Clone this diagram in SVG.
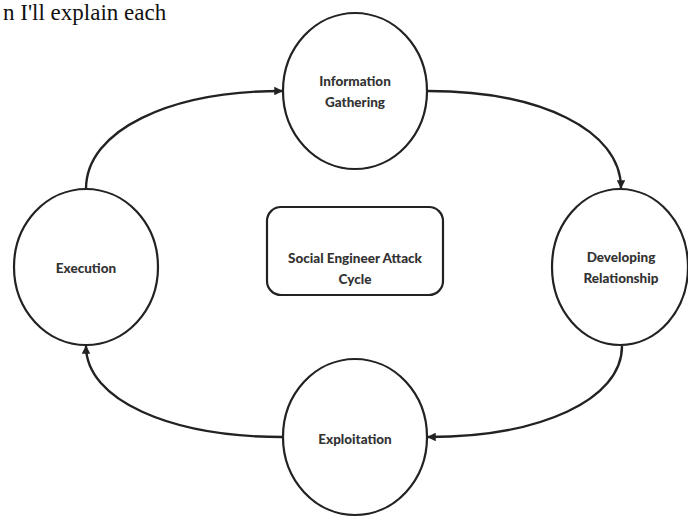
<svg xmlns="http://www.w3.org/2000/svg" width="688" height="518" viewBox="0 0 688 518">
<defs>
<style>
.node{fill:#fff;stroke:#222;stroke-width:2.2}
.lbl{font-family:Lato,"Open Sans","Liberation Sans",sans-serif;font-weight:900;font-size:13.5px;fill:#333;text-anchor:middle}
.conn{fill:none;stroke:#222;stroke-width:2.4}
.top{font-family:"Liberation Serif",serif;font-size:23px;fill:#111}
</style>
<marker id="ah" viewBox="0 0 10 10" refX="9" refY="5" markerWidth="3.6" markerHeight="3.6" orient="auto" markerUnits="strokeWidth">
<path d="M0,0 L10,5 L0,10 z" fill="#222"/>
</marker>
</defs>
<rect width="688" height="518" fill="#fff"/>
<text class="top" x="3" y="20">n I'll explain each</text>
<g id="connectors">
<path class="conn" d="M86,189 C86,130 170,91 282,91" marker-end="url(#ah)"/>
<path class="conn" d="M428,91 C540,91 621,130 621,188" marker-end="url(#ah)"/>
<path class="conn" d="M622,346 C622,400 540,437 428,437" marker-end="url(#ah)"/>
<path class="conn" d="M283,437 C170,437 86,400 86,346" marker-end="url(#ah)"/>
</g>
<g id="info">
<ellipse class="node" cx="355" cy="91" rx="72" ry="78"/>
<text class="lbl" x="355" y="86">Information</text>
<text class="lbl" x="355" y="107">Gathering</text>
</g>
<g id="develop">
<ellipse class="node" cx="620" cy="267" rx="68" ry="78"/>
<text class="lbl" x="621" y="262">Developing</text>
<text class="lbl" x="621" y="283">Relationship</text>
</g>
<g id="exploit">
<ellipse class="node" cx="355" cy="437" rx="72" ry="78"/>
<text class="lbl" x="355" y="444">Exploitation</text>
</g>
<g id="execution">
<ellipse class="node" cx="86" cy="267" rx="72" ry="78"/>
<text class="lbl" x="86" y="273">Execution</text>
</g>
<g id="center">
<rect class="node" x="267" y="207" width="176" height="88" rx="14"/>
<text class="lbl" x="355" y="263">Social Engineer Attack</text>
<text class="lbl" x="355" y="284">Cycle</text>
</g>
</svg>
